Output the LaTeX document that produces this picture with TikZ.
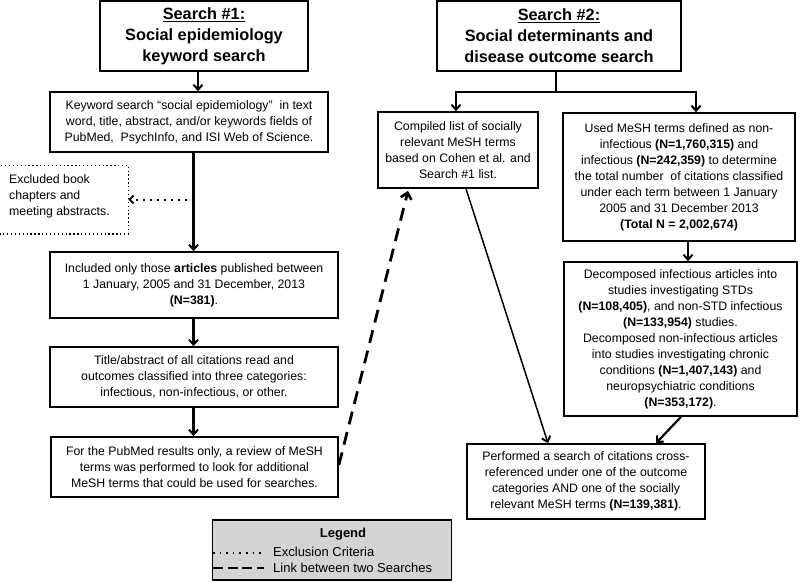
\documentclass[tikz,border=0pt]{standalone}
\usepackage{fontspec}
\setmainfont{Liberation Sans}
\usetikzlibrary{arrows.meta,calc}
\definecolor{leggray}{HTML}{D4D4D4}
\begin{document}
\begin{tikzpicture}[x=1pt,y=1pt,
  box/.style={draw, line width=1.7pt, align=center, inner sep=0pt,
    font=\fontsize{12.3}{16}\selectfont},
  titlebox/.style={draw, line width=1.8pt, align=center, inner sep=0pt,
    font=\fontsize{16.3}{21}\selectfont\bfseries},
  arr/.style={line width=2.2pt, -{Straight Barb[length=5pt,width=9pt,line width=2pt]}},
  thinarr/.style={line width=1.5pt, -{Straight Barb[length=5pt,width=9pt,line width=1.9pt]}},
  dotarr/.style={line width=2pt, dash pattern=on 2pt off 5pt, -{Straight Barb[length=4pt,width=8pt,line width=1.8pt]}},
  dasharr/.style={line width=2.8pt, dash pattern=on 13pt off 8pt, -{Straight Barb[length=6pt,width=11pt,line width=2.6pt]}},
  txt/.style={inner sep=0pt, font=\fontsize{12.3}{16}\selectfont}
]
\useasboundingbox (0,0) rectangle (800,-582);

% left column
\node[titlebox, minimum width=208, minimum height=70] (S1) at (204,-36)
  {\underline{Search \#1:}\\Social epidemiology\\keyword search};
\node[box, minimum width=278, minimum height=60] (K1) at (189,-122)
  {Keyword search “social epidemiology”\ \ in text\\word, title, abstract, and/or keywords fields of\\PubMed,\ \ PsychInfo, and ISI Web of Science.};
\node[box, draw=none, minimum width=127, minimum height=67] (EX) at (64,-199.5) {};
\draw[line width=1.3pt, dash pattern=on 1.3pt off 2.6pt] (EX.south west) rectangle (EX.north east);
\node[txt, align=left, anchor=west] (EXt) at (9,-196)
  {Excluded book\\chapters and\\meeting abstracts.};
\node[box, minimum width=288, minimum height=66] (IN) at (194,-285)
  {Included only those \textbf{articles} published between\\1 January, 2005 and 31 December, 2013\\\textbf{(N=381)}.};
\node[box, minimum width=288, minimum height=60] (TI) at (194,-377)
  {Title/abstract of all citations read and\\outcomes classified into three categories:\\infectious, non-infectious, or other.};
\node[box, minimum width=287, minimum height=60] (PM) at (194.5,-467)
  {For the PubMed results only, a review of MeSH\\terms was performed to look for additional\\MeSH terms that could be used for searches.};

% legend
\node[box, fill=leggray, minimum width=239, minimum height=60] (LG) at (332,-550) {};
\node[txt, font=\fontsize{13}{16}\selectfont\bfseries] (LGt) at (343,-534) {Legend};
\coordinate (L1a) at (213,-553);
\coordinate (L1b) at (264,-553);
\coordinate (L2a) at (213,-568);
\coordinate (L2b) at (264,-568);
\draw[line width=1.6pt, dash pattern=on 1.6pt off 5pt] (L1a) -- (L1b);
\draw[line width=2.2pt, dash pattern=on 10pt off 4.5pt] (L2a) -- (L2b);
\node[txt, anchor=west, font=\fontsize{13}{16}\selectfont] (LGa) at (273,-552) {Exclusion Criteria};
\node[txt, anchor=west, font=\fontsize{13}{16}\selectfont] (LGb) at (273,-568) {Link between two Searches};

% right column
\node[titlebox, minimum width=244, minimum height=70] (S2) at (559,-36)
  {\underline{Search \#2:}\\Social determinants and\\disease outcome search};
\node[box, minimum width=160, minimum height=76] (CO) at (458,-150)
  {Compiled list of socially\\relevant MeSH terms\\based on Cohen et al. and\\Search \#1 list.};
\node[box, minimum width=232, minimum height=128] (US) at (679,-177)
  {Used MeSH terms defined as non-\\infectious \textbf{(N=1,760,315)} and\\infectious \textbf{(N=242,359)} to determine\\the total number\ \ of citations classified\\under each term between 1 January\\2005 and 31 December 2013\\\textbf{(Total N = 2,002,674)}};
\node[box, minimum width=233, minimum height=154] (DE) at (680.5,-339)
  {Decomposed infectious articles into\\studies investigating STDs\\\textbf{(N=108,405)}, and non-STD infectious\\\textbf{(N=133,954)} studies.\\Decomposed non-infectious articles\\into studies investigating chronic\\conditions \textbf{(N=1,407,143)} and\\neuropsychiatric conditions\\\textbf{(N=353,172)}.};
\node[box, minimum width=238, minimum height=75] (PE) at (586,-481.5)
  {Performed a search of citations cross-\\referenced under one of the outcome\\categories AND one of the socially\\relevant MeSH terms \textbf{(N=139,381)}.};

% helper coordinates
\coordinate (xa) at (198,0);
\coordinate (xb) at (193.5,0);
\coordinate (sp) at (556,-92);
\coordinate (spl) at (456,-92);
\coordinate (spr) at (696,-92);
\coordinate (xu) at (688,0);
\coordinate (cob) at (466,0);
\coordinate (pet) at (548,0);
\coordinate (deb) at (681,0);
\coordinate (pet2) at (656,0);
\coordinate (pmr) at (0,-465);
\coordinate (cot) at (408,0);

% left connectors
\draw[arr] (S1.south -| xa) -- (K1.north -| xa);
\draw[arr] (K1.south -| xb) -- (IN.north -| xb);
\draw[dotarr] (EX.east -| xb) -- (EX.east);
\draw[arr] (IN.south -| xb) -- (TI.north -| xb);
\draw[arr] (TI.south -| xb) -- (PM.north -| xb);

% right connectors
\draw[line width=2.2pt] (S2.south -| sp) -- (sp);
\draw[line width=2.2pt, line cap=rect] (spl) -- (spr);
\draw[arr] (spl) -- (CO.north -| spl);
\draw[arr] (spr) -- (US.north -| spr);
\draw[arr] (US.south -| xu) -- (DE.north -| xu);
\draw[thinarr] (CO.south -| cob) -- (PE.north -| pet);
\draw[arr] (DE.south -| deb) -- (PE.north -| pet2);
\draw[dasharr] (PM.east |- pmr) -- ($(CO.south -| cot)+(0,-2)$);
\end{tikzpicture}
\end{document}
